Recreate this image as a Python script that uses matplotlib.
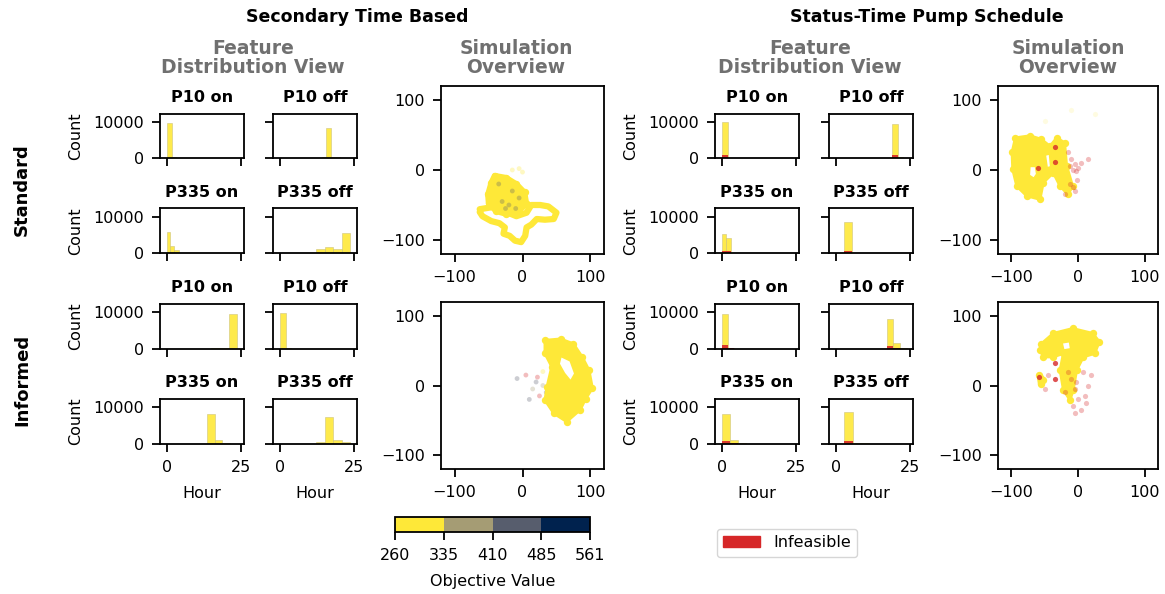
import numpy as np
import matplotlib.pyplot as plt
import matplotlib.patches as mpatches
from matplotlib.path import Path
from matplotlib.colors import BoundaryNorm
from matplotlib.cm import ScalarMappable

plt.rcParams['font.size'] = 11.5
plt.rcParams['axes.linewidth'] = 1.3
plt.rcParams['xtick.major.width'] = 1.3
plt.rcParams['ytick.major.width'] = 1.3
plt.rcParams['xtick.major.size'] = 5.5
plt.rcParams['ytick.major.size'] = 5.5
plt.rcParams['xtick.major.pad'] = 6
plt.rcParams['ytick.major.pad'] = 6

YEL = '#fee838'
RED = '#d62728'
GREY_TXT = '#707070'

# ---------------- histogram data (hour bins, counts) ----------------
hist_titles = ['P10 on', 'P10 off', 'P335 on', 'P335 off']

sec_std_edges = [[0, 1.6, 3.2], [14.0, 15.5, 17.1, 18.7, 20.3],
                 [0, 1.0, 2.4, 4.0, 5.5], [9.2, 12.1, 15.0, 17.9, 20.8, 23.7]]
sec_std_feas = [[9800, 250], [150, 8300, 300, 150],
                [6000, 2000, 1000, 200], [250, 1350, 1800, 1100, 5600]]

sec_inf_edges = [[14.9, 17.8, 20.7, 23.6], [0, 1.9, 3.8],
                 [13.4, 16.0, 18.6, 21.2], [12.1, 15.0, 17.9, 20.8, 23.7]]
sec_inf_feas = [[150, 100, 9450], [9700, 150],
                [8000, 900, 300], [400, 7300, 900, 350]]

stat_std_edges = [[0, 2.0], [17.3, 19.0, 20.7, 22.4],
                  [0, 1.5, 3.2, 4.9], [2.6, 5.4, 8.1, 10.8]]
stat_std_feas = [[10000], [100, 9500, 150],
                 [5300, 4200, 200], [8700, 250, 150]]
stat_std_infeas = [[900], [80, 750, 0],
                   [700, 600, 30], [800, 30, 10]]

stat_inf_edges = [[0, 2.0, 4.0], [17.1, 19.3, 21.6, 23.8],
                  [0, 2.6, 5.4, 8.2], [2.8, 5.6, 8.4, 11.2]]
stat_inf_feas = [[9450, 150], [8100, 1550, 150],
                 [7950, 900, 250], [8500, 250, 150]]
stat_inf_infeas = [[900, 100], [800, 100, 0],
                   [800, 60, 20], [800, 30, 10]]

# ---------------- simulation overview (2D embedding) ----------------
# secondary time based, standard
sec_std_blob_x = [-41, -24, -9, 3, 6, -9, -24, -39, -50, -51, -46]
sec_std_blob_y = [-8, -11, -20, -32, -49, -61, -63, -59, -47, -35, -18]
sec_std_ring_x = [-63, -44, -24, -9, 6, 13, 26, 38, 50, 46, 33, 21, 13, 6, 4, -2,
                  -11, -19, -28, -26, -34, -46, -59, -63]
sec_std_ring_y = [-56, -53, -60, -66, -61, -50, -50, -52, -61, -70, -71, -70, -78,
                  -82, -94, -103, -101, -94, -91, -82, -76, -73, -66, -60]
sec_std_pts_x = [-30, -20, -10, -5, -25, -15, -35, -15, -5, 0]
sec_std_pts_y = [-45, -50, -55, -40, -55, -30, -20, 0, 2, -3]
sec_std_pts_c = ['#575c6d'] * 7 + [YEL] * 3

# secondary time based, informed
sec_inf_out_x = [33, 56, 75, 88, 98, 103, 93, 85, 65, 46, 33, 36, 43, 33]
sec_inf_out_y = [65, 67, 60, 41, 22, -4, -19, -35, -52, -40, -21, -2, 27, 46]
sec_inf_hole_x = [56, 71, 78, 71, 61, 53]
sec_inf_hole_y = [43, 36, 17, 5, 17, 31]
sec_inf_pts_x = [-8, 5, 15, 20, 25, 30, 35, 30, 10, 22, 38, 40, 42, 36, 44, 42]
sec_inf_pts_y = [10, 15, -5, 5, -15, 0, -10, 20, -20, 12, -5, -15, 5, -18, -8, -3]
sec_inf_pts_c = ['#575c6d', RED, '#a69d75', '#575c6d', RED, '#a69d75', '#575c6d',
                 YEL, '#575c6d', RED, '#a69d75', '#575c6d', '#a69d75', RED,
                 '#575c6d', RED]

# status-time pump schedule, standard
stat_std_out_x = [-94, -72, -55, -42, -32, -20, -17, -8, -15, -27, -37, -52, -57,
                  -77, -92, -98, -99]
stat_std_out_y = [46, 49, 44, 34, 46, 39, 6, -23, -35, -23, -4, -18, -42, -37,
                  -23, 1, 25]
stat_std_hole1_x = [-73, -63, -61, -66, -74]
stat_std_hole1_y = [6, 6, -6, -13, -8]
stat_std_hole2_x = [-50, -42, -40, -47]
stat_std_hole2_y = [22, 24, 4, 2]
stat_std_pts_x = [-12, -8, -5, -3, -10, -15, -12, -8, -5, -2, 5, 15, 0, -20,
                  -60, -35, -35, -10, 25, -50]
stat_std_pts_y = [5, 0, 8, -2, 15, 25, -20, -25, -30, -15, 10, 15, 3, -35,
                  3, 33, 12, 85, 80, 70]
stat_std_pts_a = [0.3] * 14 + [0.8, 0.8, 0.8] + [0.15] * 3
stat_std_pts_c = [RED] * 17 + [YEL] * 3

# status-time pump schedule, informed
stat_inf_out_x = [-55, -37, -8, 22, 32, 25, 8, -2, -7, -12, -22, -27, -22, -37, -52, -57]
stat_inf_out_y = [60, 75, 82, 75, 63, 46, 41, 22, -6, -21, -6, 22, 46, 41, 41, 51]
stat_inf_hole_x = [-25, -12, -10, -22]
stat_inf_hole_y = [62, 64, 52, 50]
stat_inf_small_x = [-58, -52, -56]
stat_inf_small_y = [15, 8, 2]
stat_inf_pts_x = [-10, -5, 0, -8, 5, 10, 15, 20, -15, -3, 8, -5, 12, -20, -50,
                  -45, -35, -35, -58]
stat_inf_pts_y = [10, -5, -20, -30, -35, -15, 0, 15, 20, 5, 20, -40, -25, -10,
                  -5, 15, 10, 33, 12]
stat_inf_pts_a = [0.3] * 16 + [0.8] * 3

# colour scale of the objective value
obj_bounds = [260, 335, 410, 485, 561]

fig = plt.figure(figsize=(11.65, 5.94), dpi=100)
W, H = 1165.0, 594.0


def rect(x0, y0, x1, y1):
    return [x0 / W, 1 - y1 / H, (x1 - x0) / W, (y1 - y0) / H]


def hist_panel(r, edges, feas, infeas, title, first_col, bottom_row):
    ax = fig.add_axes(r)
    e = np.array(edges, dtype=float)
    ax.bar(e[:-1], feas, width=np.diff(e), align='edge', color=YEL, alpha=0.9,
           edgecolor='#c9bf7a', linewidth=0.4)
    if infeas is not None:
        ax.bar(e[:-1], infeas, width=np.diff(e), align='edge', color=RED,
               alpha=0.9, linewidth=0)
    ax.set_xlim(-2.3, 25.9)
    ax.set_ylim(0, 12300)
    ax.set_xticks([0, 25])
    ax.set_yticks([0, 10000])
    ax.set_title(title, fontweight='bold', fontsize=11.5, pad=8)
    if first_col:
        ax.set_ylabel('Count', labelpad=7)
    else:
        ax.set_yticklabels([])
    if bottom_row:
        ax.set_xlabel('Hour', labelpad=8)
    else:
        ax.set_xticklabels([])
    return ax


def scatter_frame(r):
    ax = fig.add_axes(r)
    ax.set_xlim(-120, 120)
    ax.set_ylim(-120, 120)
    ax.set_xticks([-100, 0, 100])
    ax.set_yticks([-100, 0, 100])
    return ax


def shape(ax, ox, oy, holes=(), lw=4):
    # filled region with optional holes, edges softened like dense markers
    def ring_verts(x, y, ccw):
        v = np.column_stack([x, y]).astype(float)
        area = 0.5 * np.sum(v[:, 0] * np.roll(v[:, 1], -1) - np.roll(v[:, 0], -1) * v[:, 1])
        if (area > 0) != ccw:
            v = v[::-1]
        return Path(np.vstack([v, v[:1]]), closed=True)
    paths = [ring_verts(ox, oy, True)] + [ring_verts(hx, hy, False) for hx, hy in holes]
    p = Path.make_compound_path(*paths)
    ax.add_patch(mpatches.PathPatch(p, facecolor=YEL, edgecolor=YEL, lw=lw,
                                    joinstyle='round', zorder=2))
    ax.scatter(ox, oy, s=28, color=YEL, zorder=2, lw=0)


def ring(ax, x, y, lw):
    ax.plot(x, y, color=YEL, lw=lw, solid_joinstyle='round',
            solid_capstyle='round', zorder=2)


hist_cols = [(160, 244), (273, 357), (715, 799), (829, 913)]
hist_rows = [(113.5, 158), (208.5, 253.5), (303.5, 348.7), (398.5, 443.7)]

groups = [
    (0, 0, sec_std_edges, sec_std_feas, None),
    (0, 2, sec_inf_edges, sec_inf_feas, None),
    (2, 0, stat_std_edges, stat_std_feas, stat_std_infeas),
    (2, 2, stat_inf_edges, stat_inf_feas, stat_inf_infeas),
]
for c0, r0, edges, feas, infeas in groups:
    for k in range(4):
        ci = c0 + k % 2
        ri = r0 + k // 2
        x0, x1 = hist_cols[ci]
        y0, y1 = hist_rows[ri]
        hist_panel(rect(x0, y0, x1, y1), edges[k], feas[k],
                   None if infeas is None else infeas[k], hist_titles[k],
                   k % 2 == 0, ri == 3)

# simulation overview panels
ax = scatter_frame(rect(441, 86, 604, 254))
ring(ax, sec_std_ring_x, sec_std_ring_y, 4.5)
shape(ax, sec_std_blob_x, sec_std_blob_y)
ax.scatter(sec_std_pts_x, sec_std_pts_y, s=12, c=sec_std_pts_c, alpha=0.3, lw=0, zorder=3)

ax = scatter_frame(rect(441, 302, 604, 469))
ax.scatter(sec_inf_pts_x, sec_inf_pts_y, s=12, c=sec_inf_pts_c, alpha=0.3, lw=0, zorder=1)
shape(ax, sec_inf_out_x, sec_inf_out_y, [(sec_inf_hole_x, sec_inf_hole_y)], lw=2)

ax = scatter_frame(rect(998, 86, 1158, 254))
shape(ax, stat_std_out_x, stat_std_out_y,
      [(stat_std_hole1_x, stat_std_hole1_y), (stat_std_hole2_x, stat_std_hole2_y)], lw=2)
for px, py, pa, pc in zip(stat_std_pts_x, stat_std_pts_y, stat_std_pts_a, stat_std_pts_c):
    ax.scatter(px, py, s=14, color=pc, alpha=pa, lw=0, zorder=3)

ax = scatter_frame(rect(998, 302, 1158, 469))
shape(ax, stat_inf_out_x, stat_inf_out_y, [(stat_inf_hole_x, stat_inf_hole_y)], lw=2)
shape(ax, stat_inf_small_x, stat_inf_small_y, lw=4)
for px, py, pa in zip(stat_inf_pts_x, stat_inf_pts_y, stat_inf_pts_a):
    ax.scatter(px, py, s=14, color=RED, alpha=pa, lw=0, zorder=3)

# colour bar
cmap = plt.get_cmap('cividis_r', 4)
norm = BoundaryNorm(obj_bounds, cmap.N)
cax = fig.add_axes(rect(395, 517, 590, 532))
cb = fig.colorbar(ScalarMappable(norm=norm, cmap=cmap), cax=cax,
                  orientation='horizontal', ticks=obj_bounds)
cb.set_label('Objective Value', labelpad=8)
cb.outline.set_linewidth(1.3)

# legend
fig.legend(handles=[mpatches.Patch(color=RED, label='Infeasible')],
           loc='upper left', bbox_to_anchor=(709 / W, 1 - 521 / H),
           fontsize=11.5, handlelength=2.3)

# headings
fig.text(357 / W, 1 - 17 / H, 'Secondary Time Based', ha='center', va='center',
         fontweight='bold', fontsize=12.5)
fig.text(927 / W, 1 - 17 / H, 'Status-Time Pump Schedule', ha='center', va='center',
         fontweight='bold', fontsize=12.5)
for xc, txt in [(253, 'Feature\nDistribution View'), (516, 'Simulation\nOverview'),
                (810, 'Feature\nDistribution View'), (1068, 'Simulation\nOverview')]:
    fig.text(xc / W, 1 - 58 / H, txt, ha='center', va='center', fontweight='bold',
             fontsize=13.5, color=GREY_TXT, linespacing=1.05)
fig.text(22 / W, 1 - 190 / H, 'Standard', rotation=90, ha='center', va='center',
         fontweight='bold', fontsize=13)
fig.text(22 / W, 1 - 380 / H, 'Informed', rotation=90, ha='center', va='center',
         fontweight='bold', fontsize=13)

fig.savefig('out.png', dpi=100)
